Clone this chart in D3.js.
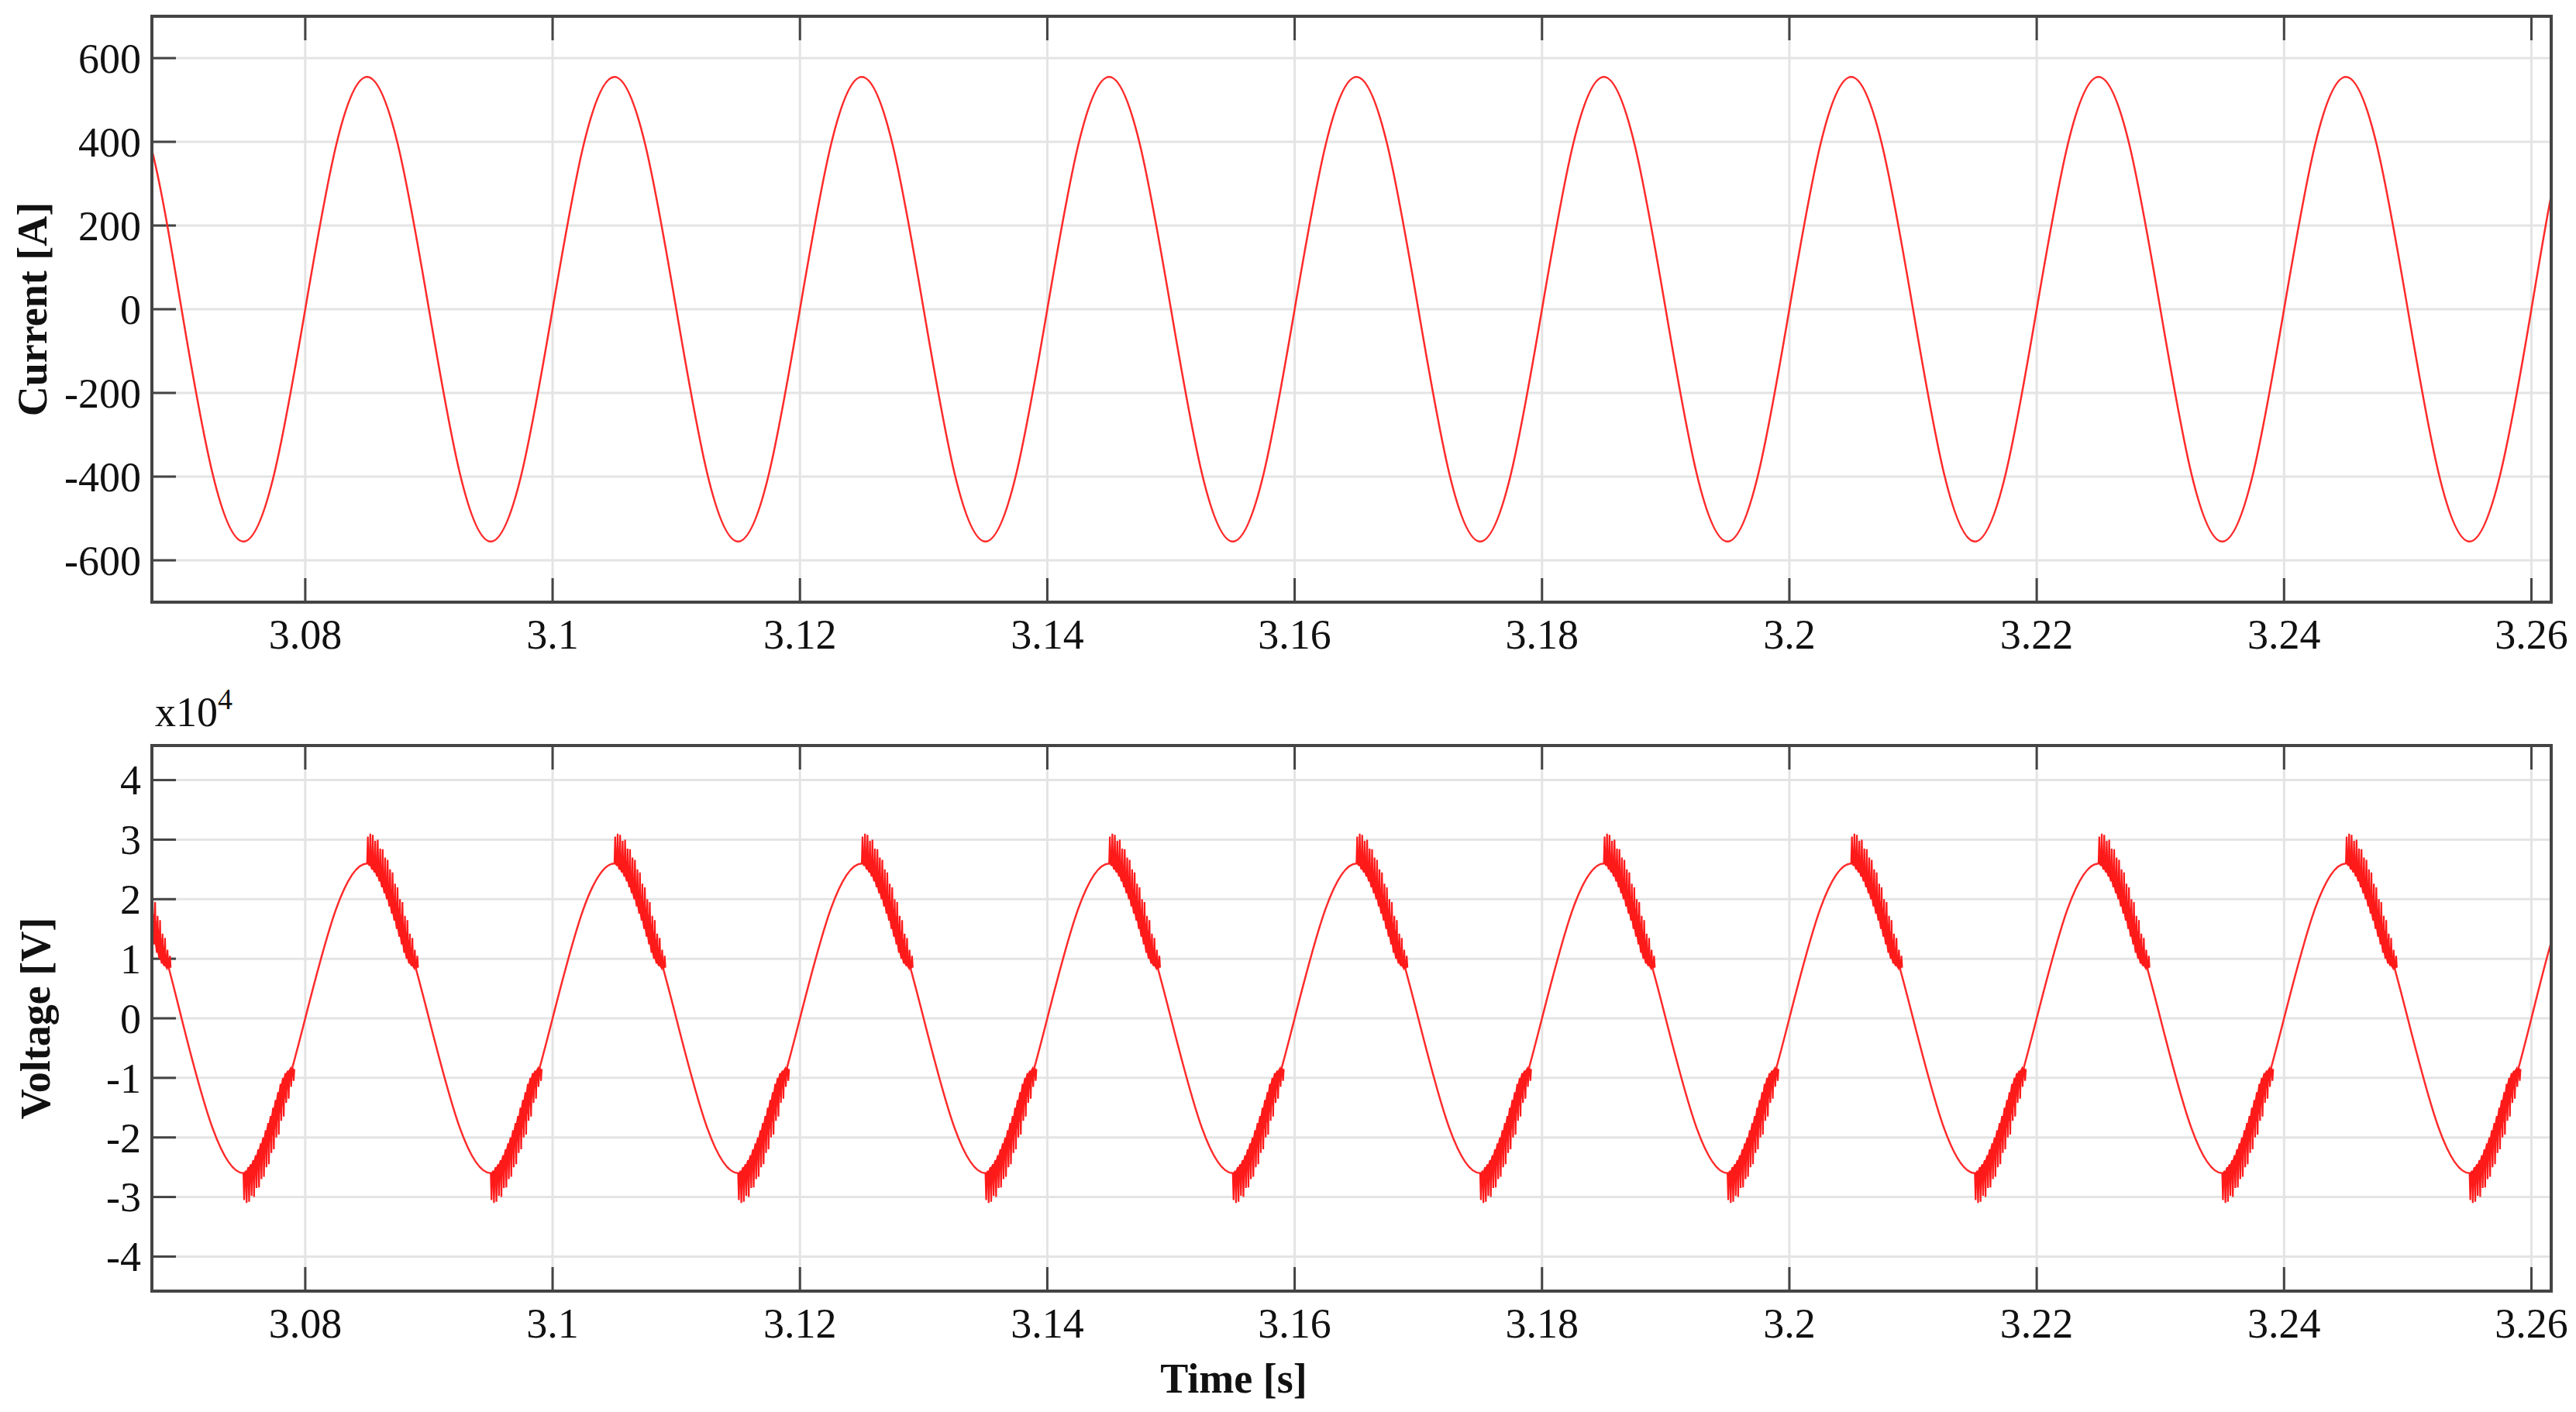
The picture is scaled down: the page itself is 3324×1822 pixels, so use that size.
<!DOCTYPE html>
<html>
<head>
<meta charset="utf-8">
<script src="https://cdn.jsdelivr.net/npm/d3@7"></script>
<style>
  body { margin: 0; background: #fff; }
  text { font-family: "Liberation Serif", "DejaVu Serif", serif; fill: #111; }
</style>
</head>
<body>
<svg id="chart" width="3324" height="1822"></svg>
<script>
// sample times every 2.5 ms (eighth of a 50 Hz period)
var times = d3.range(81).map(i => +(3.065 + i * 0.0025).toFixed(4));

// current [A] at those times
var currentVals = [
  555, 392, 0, -392, -555, -392, 0, 392,
  555, 392, 0, -392, -555, -392, 0, 392,
  555, 392, 0, -392, -555, -392, 0, 392,
  555, 392, 0, -392, -555, -392, 0, 392,
  555, 392, 0, -392, -555, -392, 0, 392,
  555, 392, 0, -392, -555, -392, 0, 392,
  555, 392, 0, -392, -555, -392, 0, 392,
  555, 392, 0, -392, -555, -392, 0, 392,
  555, 392, 0, -392, -555, -392, 0, 392,
  555, 392, 0, -392, -555, -392, 0, 392,
  555
];

// voltage [x1e4 V] fundamental at those times
var voltageVals = [
  2.6, 1.84, 0, -1.84, -2.6, -1.84, 0, 1.84,
  2.6, 1.84, 0, -1.84, -2.6, -1.84, 0, 1.84,
  2.6, 1.84, 0, -1.84, -2.6, -1.84, 0, 1.84,
  2.6, 1.84, 0, -1.84, -2.6, -1.84, 0, 1.84,
  2.6, 1.84, 0, -1.84, -2.6, -1.84, 0, 1.84,
  2.6, 1.84, 0, -1.84, -2.6, -1.84, 0, 1.84,
  2.6, 1.84, 0, -1.84, -2.6, -1.84, 0, 1.84,
  2.6, 1.84, 0, -1.84, -2.6, -1.84, 0, 1.84,
  2.6, 1.84, 0, -1.84, -2.6, -1.84, 0, 1.84,
  2.6, 1.84, 0, -1.84, -2.6, -1.84, 0, 1.84,
  2.6
];

// switching ripple after each voltage peak: time after peak [ms], upper and lower envelope [x1e4 V]
var rippleDt = [0, 0.2, 0.4, 0.6, 0.8, 1.0, 1.2, 1.4, 1.6, 1.8, 2.0, 2.2, 2.4, 2.6, 2.8, 3.0, 3.2, 3.4, 3.6, 3.8, 4.0];
var rippleHi = [3.05, 3.1, 3.08, 2.98, 3.0, 2.85, 2.84, 2.7, 2.66, 2.5, 2.45, 2.26, 2.2, 2.0, 1.95, 1.72, 1.65, 1.42, 1.35, 1.15, 1.05];
var rippleLo = [2.6, 2.56, 2.5, 2.45, 2.38, 2.3, 2.2, 2.1, 2.0, 1.88, 1.76, 1.64, 1.5, 1.37, 1.24, 1.1, 1.0, 0.92, 0.88, 0.85, 0.85];
var peakTimes = [3.065, 3.085, 3.105, 3.125, 3.145, 3.165, 3.185, 3.205, 3.225, 3.245];
var troughTimes = [3.075, 3.095, 3.115, 3.135, 3.155, 3.175, 3.195, 3.215, 3.235, 3.255];

var xTicks = [3.08, 3.1, 3.12, 3.14, 3.16, 3.18, 3.2, 3.22, 3.24, 3.26];
var currentTicks = [-600, -400, -200, 0, 200, 400, 600];
var voltageTicks = [-4, -3, -2, -1, 0, 1, 2, 3, 4];

var svg = d3.select("#chart");
var left = 196, right = 3292;
var x = d3.scaleLinear().domain([3.0676, 3.2616]).range([left, right]);

function panel(id, top, bottom, y, ticks, label, labelX) {
  var g = svg.append("g");
  g.append("clipPath").attr("id", id).append("rect")
    .attr("x", left).attr("y", top).attr("width", right - left).attr("height", bottom - top);

  // grid
  g.selectAll(".gy").data(ticks).join("line")
    .attr("x1", left).attr("x2", right).attr("y1", d => y(d)).attr("y2", d => y(d))
    .attr("stroke", "#e4e4e4").attr("stroke-width", 3);
  g.selectAll(".gx").data(xTicks).join("line")
    .attr("x1", d => x(d)).attr("x2", d => x(d)).attr("y1", top).attr("y2", bottom)
    .attr("stroke", "#e4e4e4").attr("stroke-width", 3);

  // inside ticks
  g.selectAll(".ty").data(ticks).join("line")
    .attr("x1", left).attr("x2", left + 31).attr("y1", d => y(d)).attr("y2", d => y(d))
    .attr("stroke", "#444").attr("stroke-width", 3);
  g.selectAll(".txb").data(xTicks).join("line")
    .attr("x1", d => x(d)).attr("x2", d => x(d)).attr("y1", bottom).attr("y2", bottom - 31)
    .attr("stroke", "#444").attr("stroke-width", 3);
  g.selectAll(".txt").data(xTicks).join("line")
    .attr("x1", d => x(d)).attr("x2", d => x(d)).attr("y1", top).attr("y2", top + 31)
    .attr("stroke", "#444").attr("stroke-width", 3);

  // tick labels
  g.selectAll(".ly").data(ticks).join("text")
    .attr("x", 182).attr("y", d => y(d)).attr("dy", "0.35em")
    .attr("text-anchor", "end").attr("font-size", 54).text(d => d);
  g.selectAll(".lx").data(xTicks).join("text")
    .attr("x", d => x(d)).attr("y", bottom + 60)
    .attr("text-anchor", "middle").attr("font-size", 54).text(d => d);

  g.append("text")
    .attr("transform", "translate(" + labelX + "," + ((top + bottom) / 2) + ") rotate(-90)")
    .attr("text-anchor", "middle").attr("font-size", 54).attr("font-weight", "bold")
    .text(label);
  return g;
}

// current panel
var yc = d3.scaleLinear().domain([-700, 700]).range([777, 21]);
var gc = panel("clipC", 21, 777, yc, currentTicks, "Current [A]", 60);
gc.append("path")
  .datum(times.map((t, i) => [t, currentVals[i]]))
  .attr("clip-path", "url(#clipC)")
  .attr("fill", "none").attr("stroke", "#ff2a2a").attr("stroke-width", 2.5)
  .attr("d", d3.line().x(d => x(d[0])).y(d => yc(d[1])).curve(d3.curveNatural));

// voltage panel
var yv = d3.scaleLinear().domain([-4.58, 4.58]).range([1666, 962]);
var gv = panel("clipV", 962, 1666, yv, voltageTicks, "Voltage [V]", 64);
gv.append("path")
  .datum(times.map((t, i) => [t, voltageVals[i]]))
  .attr("clip-path", "url(#clipV)")
  .attr("fill", "none").attr("stroke", "#ff2a2a").attr("stroke-width", 2.5)
  .attr("d", d3.line().x(d => x(d[0])).y(d => yv(d[1])).curve(d3.curveNatural));

// ripple zigzags
function zigzag(t0, sign) {
  var pts = [];
  rippleDt.forEach((dt, i) => {
    pts.push([t0 + dt / 1000, sign * rippleLo[i]]);
    pts.push([t0 + (dt + 0.06) / 1000, sign * rippleHi[i]]);
    pts.push([t0 + (dt + 0.12) / 1000, sign * rippleLo[i]]);
  });
  return pts;
}
var ripples = peakTimes.map(t => zigzag(t, 1)).concat(troughTimes.map(t => zigzag(t, -1)));
gv.selectAll(".rip").data(ripples).join("path")
  .attr("clip-path", "url(#clipV)")
  .attr("fill", "none").attr("stroke", "#ff1a1a").attr("stroke-width", 2.2)
  .attr("d", d3.line().x(d => x(d[0])).y(d => yv(d[1])));

// frames
[[21, 777], [962, 1666]].forEach(b => {
  svg.append("rect").attr("x", left).attr("y", b[0]).attr("width", right - left).attr("height", b[1] - b[0])
    .attr("fill", "none").attr("stroke", "#444").attr("stroke-width", 4);
});

// exponent and axis title
var ex = svg.append("text").attr("x", 200).attr("y", 937).attr("font-size", 54);
ex.append("tspan").text("x10");
ex.append("tspan").attr("dy", -22).attr("font-size", 38).text("4");

svg.append("text").attr("x", 1592).attr("y", 1797).attr("text-anchor", "middle")
  .attr("font-size", 54).attr("font-weight", "bold").text("Time [s]");
</script>
</body>
</html>
